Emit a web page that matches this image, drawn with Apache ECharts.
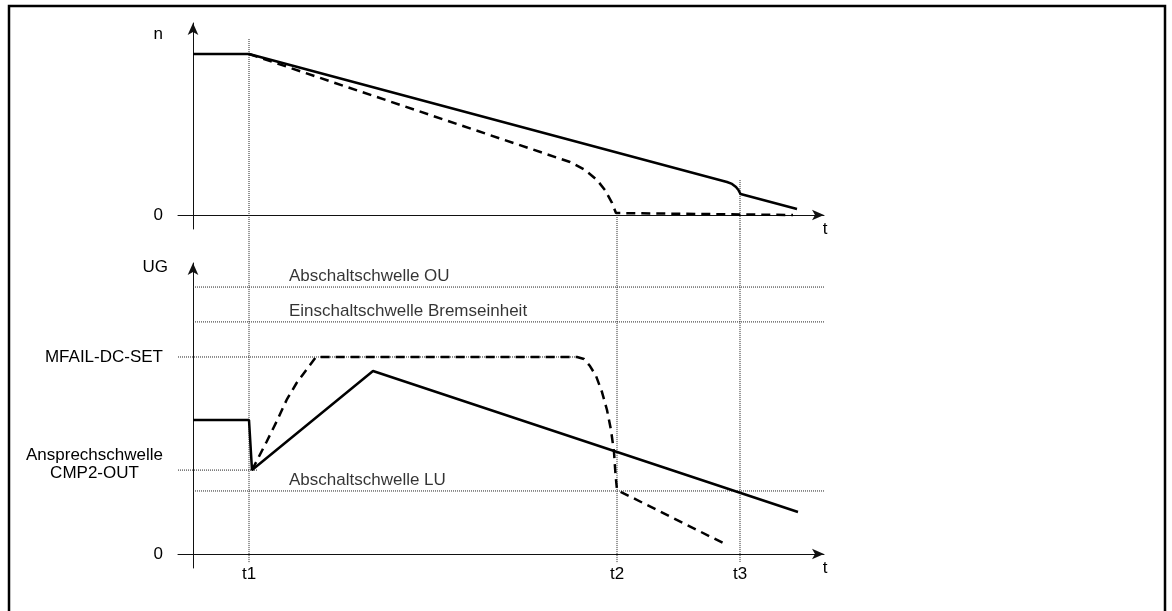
<!DOCTYPE html>
<html>
<head>
<meta charset="utf-8">
<title>n / UG</title>
<script src="https://cdn.jsdelivr.net/npm/echarts@6/dist/echarts.min.js"></script>
<style>
	html, body { margin: 0; padding: 0; background: #fff; }
	#chart { width: 1172px; height: 611px; }
</style>
</head>
<body>
<div id="chart"></div>
<script>
// Zeitpunkte auf der t-Achse
const timeMarks = [14, 106, 136.75];
const timeLabels = ['t1', 't2', 't3'];

// Drehzahl n (oberes Diagramm)
const nSolid = [[0, 100], [14, 100], [133.5, 20.5], [134.75, 19.3], [135.75, 17.4], [136.4, 15.3], [136.9, 13.0], [137.25, 12.0], [151, 3.7]];
const nDashed = [[14, 100], [94.25, 32.9], [98, 28.0], [101, 21.7], [103, 15.5], [104.75, 7.5], [105.75, 1.2], [106, 0], [150, 0]];
// wo die Hilfslinien im oberen Diagramm beginnen
const guideStartN = [109.3, 0, 21.7];

// Zwischenkreisspannung UG (unteres Diagramm)
const ugSolid = [[0, 68], [14, 68], [14.75, 42.6], [45, 92.9], [151.25, 21.3]];
const ugDashed = [
	[14.75, 42.6], [18.4, 57.0], [20.9, 67.2], [23.4, 78.2], [25.9, 86.8], [28, 92.5], [30.75, 100],
	[96, 100], [97.75, 99.0], [99.25, 95.4], [100.75, 90.4], [102.25, 82.2], [103.5, 73.1],
	[104.5, 62.9], [105.25, 51.8], [105.6, 41.1], [106, 32.5], [133, 5.1]
];

// Schwellen
const thresholdNames = ['Abschaltschwelle OU', 'Einschaltschwelle Bremseinheit', 'Abschaltschwelle LU'];
const thresholdLevels = [135.5, 117.8, 32];
const levelMfail = 100;
const levelCmp2 = 42.6;

const font = '"Liberation Sans", Arial, sans-serif';
const fontSize = 17;
const textColor = '#000';
const axisLineStyle = { color: '#111', width: 1 };
const guideStyle = { color: '#222', width: 1, type: [1, 1] };
const thresholdStyle = { color: '#222', width: 1, type: [1, 1] };

function timeAxis(gridIndex, showLabels) {
	return {
		type: 'value',
		gridIndex: gridIndex,
		min: -3.75,
		max: 157.75,
		name: 't',
		nameLocation: 'end',
		nameGap: 1,
		nameTextStyle: {
			fontFamily: font,
			fontSize: fontSize,
			color: textColor,
			align: 'center',
			verticalAlign: 'top',
			padding: [6, 0, 0, 0]
		},
		axisLine: {
			onZero: true,
			symbol: ['none', 'arrow'],
			symbolSize: [8, 12],
			lineStyle: axisLineStyle
		},
		axisTick: { show: false },
		splitLine: { show: false },
		axisLabel: showLabels
			? {
				customValues: timeMarks,
				formatter: v => timeLabels[timeMarks.indexOf(v)] || '',
				margin: -2,
				fontFamily: font,
				fontSize: fontSize,
				color: textColor
			}
			: { show: false }
	};
}

// Linie zwischen zwei Punkten
function segment(name, gridIndex, data, style) {
	return {
		name: name,
		type: 'line',
		xAxisIndex: gridIndex,
		yAxisIndex: gridIndex,
		data: data,
		symbol: 'none',
		clip: false,
		silent: true,
		lineStyle: style,
		z: 1
	};
}

function curve(name, gridIndex, data, dashed) {
	return {
		name: name,
		type: 'line',
		xAxisIndex: gridIndex,
		yAxisIndex: gridIndex,
		data: data,
		symbol: 'none',
		clip: false,
		lineStyle: { color: '#000', width: 2.5, type: dashed ? [9, 6] : 'solid' },
		z: 3
	};
}

const series = [];
series.push(curve('n', 0, nSolid, false));
series.push(curve('n (gestrichelt)', 0, nDashed, true));
series.push(curve('UG', 1, ugSolid, false));
series.push(curve('UG (gestrichelt)', 1, ugDashed, true));

// senkrechte Hilfslinien bei t1, t2, t3
timeMarks.forEach((t, i) => {
	series.push(segment('guide-n-' + i, 0, [[t, guideStartN[i]], [t, -8.7]], guideStyle));
	series.push(segment('guide-ug-' + i, 1, [[t, 165], [t, -4.6]], guideStyle));
});

// waagrechte Schwellen
thresholdLevels.forEach((lvl, i) => {
	series.push(segment(thresholdNames[i], 1, [[0, lvl], [158.75, lvl]], thresholdStyle));
});
series.push(segment('MFAIL-DC-SET', 1, [[-3.75, levelMfail], [96, levelMfail]], thresholdStyle));
series.push(segment('CMP2-OUT', 1, [[-3.75, levelCmp2], [16.25, levelCmp2]], thresholdStyle));

// Beschriftung der Schwellen
series.push({
	name: 'labels',
	type: 'scatter',
	xAxisIndex: 1,
	yAxisIndex: 1,
	symbolSize: 0,
	silent: true,
	data: thresholdLevels.map((lvl, i) => [24, lvl, thresholdNames[i]]),
	label: {
		show: true,
		position: 'top',
		align: 'left',
		distance: 2,
		formatter: p => p.data[2],
		fontFamily: font,
		fontSize: fontSize,
		color: textColor
	}
});

const chart = echarts.init(document.getElementById('chart'), null, { renderer: 'canvas' });
chart.setOption({
	backgroundColor: '#fff',
	animation: false,
	textStyle: { fontFamily: font },
	grid: [
		{ left: 178, right: 348, top: 23, height: 206, outerBoundsMode: 'none' },
		{ left: 178, right: 348, top: 263, height: 305, outerBoundsMode: 'none' }
	],
	xAxis: [timeAxis(0, false), timeAxis(1, true)],
	yAxis: [
		{
			type: 'value',
			gridIndex: 0,
			min: -8.7,
			max: 119.25,
			name: 'n',
			nameLocation: 'end',
			nameGap: -11,
			nameTextStyle: {
				fontFamily: font,
				fontSize: fontSize,
				color: textColor,
				align: 'right',
				verticalAlign: 'middle',
				padding: [0, 30, 0, 0]
			},
			axisLine: { onZero: true, symbol: ['none', 'arrow'], symbolSize: [8, 12], lineStyle: axisLineStyle },
			axisTick: { show: false },
			splitLine: { show: false },
			axisLabel: {
				customValues: [0],
				margin: 15,
				fontFamily: font,
				fontSize: fontSize,
				color: textColor
			}
		},
		{
			type: 'value',
			gridIndex: 1,
			min: -7.1,
			max: 147.7,
			name: 'UG',
			nameLocation: 'end',
			nameGap: -4,
			nameTextStyle: {
				fontFamily: font,
				fontSize: fontSize,
				color: textColor,
				align: 'right',
				verticalAlign: 'middle',
				padding: [0, 25, 0, 0]
			},
			axisLine: { onZero: true, symbol: ['none', 'arrow'], symbolSize: [8, 12], lineStyle: axisLineStyle },
			axisTick: { show: false },
			splitLine: { show: false },
			axisLabel: {
				customValues: [0, levelCmp2 + 3, levelMfail],
				margin: 15,
				fontFamily: font,
				fontSize: fontSize,
				color: textColor,
				formatter: function(v) {
					if (v === 0) return '0';
					if (v === levelMfail) return 'MFAIL-DC-SET';
					return '{c|Ansprechschwelle}\n{c|CMP2-OUT}';
				},
				rich: {
					c: { align: 'center', fontFamily: font, fontSize: fontSize, lineHeight: 18, color: textColor }
				}
			}
		}
	],
	graphic: [
		{
			type: 'rect',
			silent: true,
			shape: { x: 9, y: 6, width: 1156, height: 640 },
			style: { fill: 'none', stroke: '#000', lineWidth: 2.5 }
		}
	],
	series: series
});
</script>
</body>
</html>
